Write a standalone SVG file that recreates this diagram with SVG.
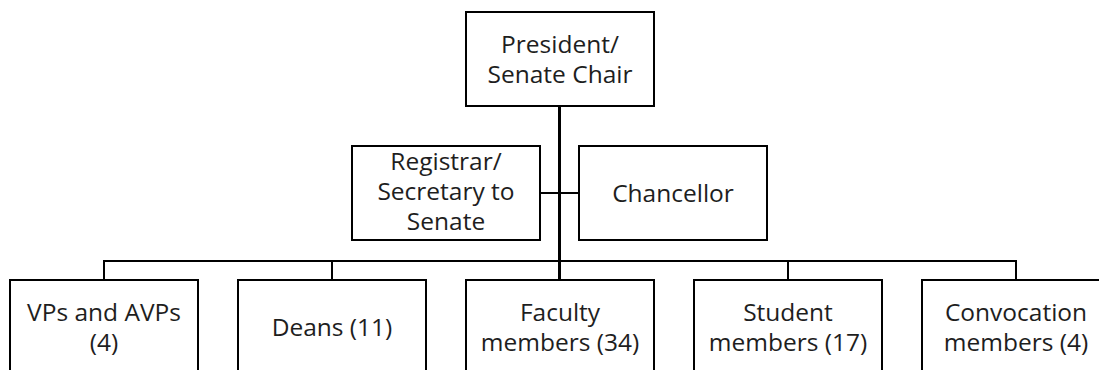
<svg xmlns="http://www.w3.org/2000/svg" width="1099" height="370" viewBox="0 0 1099 370">
  <style>
    .box { fill: #ffffff; stroke: #000000; stroke-width: 2; }
    .lbl { font-family: "Open Sans", "Liberation Sans", sans-serif; font-size: 24.5px; fill: #1e1e1e; text-anchor: middle; }
    .wire { fill: none; stroke: #000000; stroke-width: 2; }
    .trunk { fill: none; stroke: #000000; stroke-width: 3; }
  </style>
  <rect width="1099" height="370" fill="#ffffff"/>

  <!-- connectors -->
  <g id="connectors">
    <line class="trunk" x1="559.5" y1="106" x2="559.5" y2="280"/>
    <line class="wire" x1="540" y1="193" x2="579" y2="193"/>
    <line class="wire" x1="103" y1="261" x2="1017" y2="261"/>
    <line class="wire" x1="104" y1="261" x2="104" y2="280"/>
    <line class="wire" x1="332" y1="261" x2="332" y2="280"/>
    <line class="wire" x1="788" y1="261" x2="788" y2="280"/>
    <line class="wire" x1="1016" y1="261" x2="1016" y2="280"/>
  </g>

  <!-- top -->
  <g id="president">
    <rect class="box" x="466" y="12" width="188" height="94"/>
    <text class="lbl" x="560" y="53">President/</text>
    <text class="lbl" x="560" y="83">Senate Chair</text>
  </g>

  <!-- middle tier -->
  <g id="registrar">
    <rect class="box" x="352" y="146" width="188" height="94"/>
    <text class="lbl" x="446" y="170">Registrar/</text>
    <text class="lbl" x="446" y="200">Secretary to</text>
    <text class="lbl" x="446" y="230">Senate</text>
  </g>
  <g id="chancellor">
    <rect class="box" x="579" y="146" width="188" height="94"/>
    <text class="lbl" x="673" y="202">Chancellor</text>
  </g>

  <!-- bottom tier -->
  <g id="vps">
    <rect class="box" x="10" y="280" width="188" height="96"/>
    <text class="lbl" x="104" y="321">VPs and AVPs</text>
    <text class="lbl" x="104" y="351">(4)</text>
  </g>
  <g id="deans">
    <rect class="box" x="238" y="280" width="188" height="96"/>
    <text class="lbl" x="332" y="336">Deans (11)</text>
  </g>
  <g id="faculty">
    <rect class="box" x="466" y="280" width="188" height="96"/>
    <text class="lbl" x="560" y="321">Faculty</text>
    <text class="lbl" x="560" y="351">members (34)</text>
  </g>
  <g id="students">
    <rect class="box" x="694" y="280" width="188" height="96"/>
    <text class="lbl" x="788" y="321">Student</text>
    <text class="lbl" x="788" y="351">members (17)</text>
  </g>
  <g id="convocation">
    <rect class="box" x="922" y="280" width="188" height="96"/>
    <text class="lbl" x="1016" y="321">Convocation</text>
    <text class="lbl" x="1016" y="351">members (4)</text>
  </g>
</svg>
